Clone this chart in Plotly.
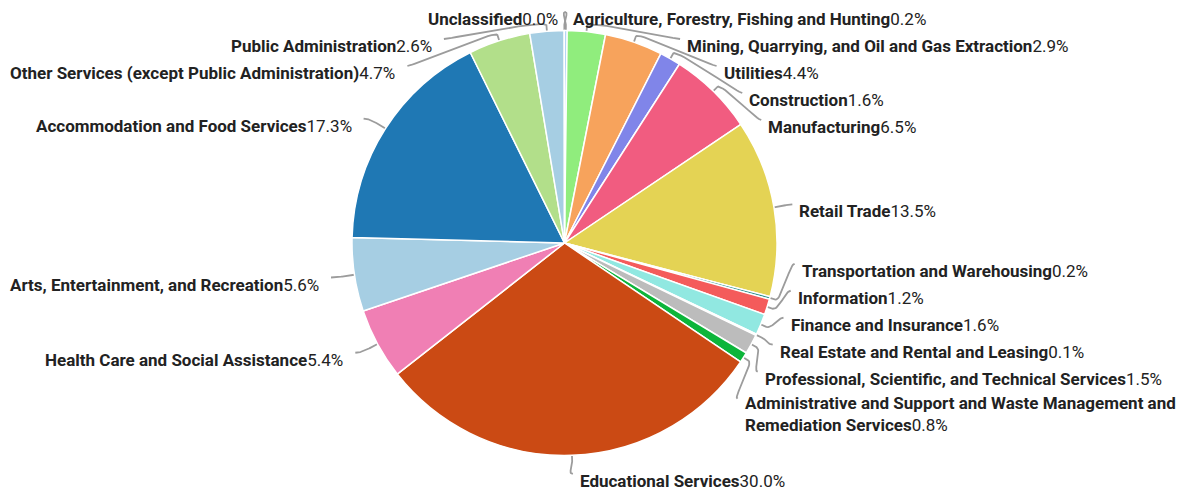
import math
import plotly.graph_objects as go

labels = [
    "Agriculture, Forestry, Fishing and Hunting",
    "Mining, Quarrying, and Oil and Gas Extraction",
    "Utilities",
    "Construction",
    "Manufacturing",
    "Retail Trade",
    "Transportation and Warehousing",
    "Information",
    "Finance and Insurance",
    "Real Estate and Rental and Leasing",
    "Professional, Scientific, and Technical Services",
    "Administrative and Support and Waste Management and<br>Remediation Services",
    "Educational Services",
    "Health Care and Social Assistance",
    "Arts, Entertainment, and Recreation",
    "Accommodation and Food Services",
    "Other Services (except Public Administration)",
    "Public Administration",
    "Unclassified",
]
values = [0.2, 2.9, 4.4, 1.6, 6.5, 13.5, 0.2, 1.2, 1.6, 0.1, 1.5, 0.8,
          30.0, 5.4, 5.6, 17.3, 4.7, 2.6, 0.02]
colors = ["#7cb5ec", "#90ed7d", "#f7a35c", "#8085e9", "#f15c80", "#e4d354",
          "#2b908f", "#f45b5b", "#91e8e1", "#7cb5ec", "#bcbcbc", "#0cb53a",
          "#cb4a14", "#f07fb4", "#a6cee3", "#1f78b4", "#b2df8a", "#a6cee3",
          "#7cb5ec"]

# ---- geometry (pixels) ----
W, H = 1185, 490
CX, CY, R = 564.5, 243.0, 212.5
NAT_R = 231.0           # natural label anchor distance
TEXT_R = 238.0          # circle on which labels are aligned
BREAK = 6               # connector break distance from the rim
BOX_H = 27              # label box height
LINE_H = 16             # extra height per extra text line
FONT = "Roboto"

total = sum(values)
n = len(values)
theta = []
cum = 0.0
for v in values:
    theta.append(2 * math.pi * (cum + v / 2) / total)
    cum += v
nlines = [lab.count("<br>") + 1 for lab in labels]
is_right = [math.sin(t) >= 0 for t in theta]


def distribute(idx):
    boxes = []
    for i in idx:
        h = BOX_H + LINE_H * (nlines[i] - 1)
        ny = CY - NAT_R * math.cos(theta[i])
        boxes.append(dict(members=[i], sizes=[h], size=h,
                          targets=[ny - 12 + h / 2]))
    boxes.sort(key=lambda b: b["targets"][0])

    def place():
        for b in boxes:
            c = (min(b["targets"]) + max(b["targets"])) / 2
            b["pos"] = min(max(c - b["size"] / 2, 0), H - b["size"])

    place()
    while True:
        hit = None
        for k in range(1, len(boxes)):
            p, b = boxes[k - 1], boxes[k]
            if p["pos"] + p["size"] > b["pos"] + 1e-9:
                hit = k
                break
        if hit is None:
            break
        p, b = boxes[hit - 1], boxes[hit]
        p["members"] += b["members"]
        p["sizes"] += b["sizes"]
        p["size"] += b["size"]
        p["targets"] += b["targets"]
        del boxes[hit]
        place()
    ys = {}
    for b in boxes:
        top = b["pos"]
        for i, h in zip(b["members"], b["sizes"]):
            ys[i] = top + 12
            top += h
    return ys


label_y = {}
label_y.update(distribute([i for i in range(n) if is_right[i]]))
label_y.update(distribute([i for i in range(n) if not is_right[i]]))

fig = go.Figure()
fig.add_trace(go.Pie(
    labels=[l.replace("<br>", " ") for l in labels],
    values=values,
    sort=False,
    direction="clockwise",
    rotation=0,
    automargin=False,
    textinfo="none",
    marker=dict(colors=colors, line=dict(color="white", width=1.5)),
    domain=dict(x=[(CX - R) / W, (CX + R) / W],
                y=[1 - (CY + R) / H, 1 - (CY - R) / H]),
    showlegend=False,
))

lx, ly = [], []
for i in range(n):
    t = theta[i]
    y = label_y[i]
    s = 1 if is_right[i] else -1
    if abs(math.cos(t)) > 0.998:
        conn_x = CX + s * TEXT_R * abs(math.sin(t))
        text_x = conn_x + (6 if is_right[i] else -5)
    else:
        xoff = math.sqrt(max(TEXT_R ** 2 - (y - CY) ** 2, 0.0))
        if is_right[i]:
            text_x = CX + xoff - 1
            conn_x = text_x - 6
        else:
            text_x = CX - xoff - 9
            conn_x = text_x + 11
    # connector: label -> soft curve -> break point -> rim
    tx, ty = CX + R * math.sin(t), CY - R * math.cos(t)
    bx, by = CX + (R + BREAK) * math.sin(t), CY - (R + BREAK) * math.cos(t)
    p0 = (conn_x, y)
    p1 = (conn_x - s * 5, y)
    p2 = (2 * bx - tx, 2 * by - ty)
    p3 = (bx, by)
    for k in range(21):
        u = k / 20
        a, b_, c, d = (1 - u) ** 3, 3 * (1 - u) ** 2 * u, 3 * (1 - u) * u ** 2, u ** 3
        lx.append(a * p0[0] + b_ * p1[0] + c * p2[0] + d * p3[0])
        ly.append(a * p0[1] + b_ * p1[1] + c * p2[1] + d * p3[1])
    lx += [tx, None]
    ly += [ty, None]

    pct = f"{values[i] / total * 100:.1f}%"
    fig.add_annotation(
        x=text_x, y=y + 7 + LINE_H / 2 * (nlines[i] - 1), xref="x", yref="y",
        text=f"<b>{labels[i]}</b>{pct}",
        showarrow=False,
        xanchor="left" if is_right[i] else "right",
        yanchor="middle",
        align="left" if is_right[i] else "right",
        font=dict(family=FONT, size=17, color="#222222"),
        borderpad=0,
    )

fig.add_trace(go.Scatter(
    x=lx, y=ly, mode="lines",
    line=dict(color="#9c9c9c", width=1.8),
    hoverinfo="skip", showlegend=False,
))

fig.update_layout(
    width=W, height=H,
    margin=dict(l=0, r=0, t=0, b=0, pad=0),
    paper_bgcolor="white",
    plot_bgcolor="rgba(0,0,0,0)",
    font=dict(family=FONT, size=17, color="#222222"),
    showlegend=False,
    xaxis=dict(range=[0, W], visible=False, fixedrange=True),
    yaxis=dict(range=[H, 0], visible=False, fixedrange=True),
)

post = "document.body.style.margin='0';document.body.style.overflow='hidden';"
fig.write_html("out.html", post_script=post, config={"displayModeBar": False})
